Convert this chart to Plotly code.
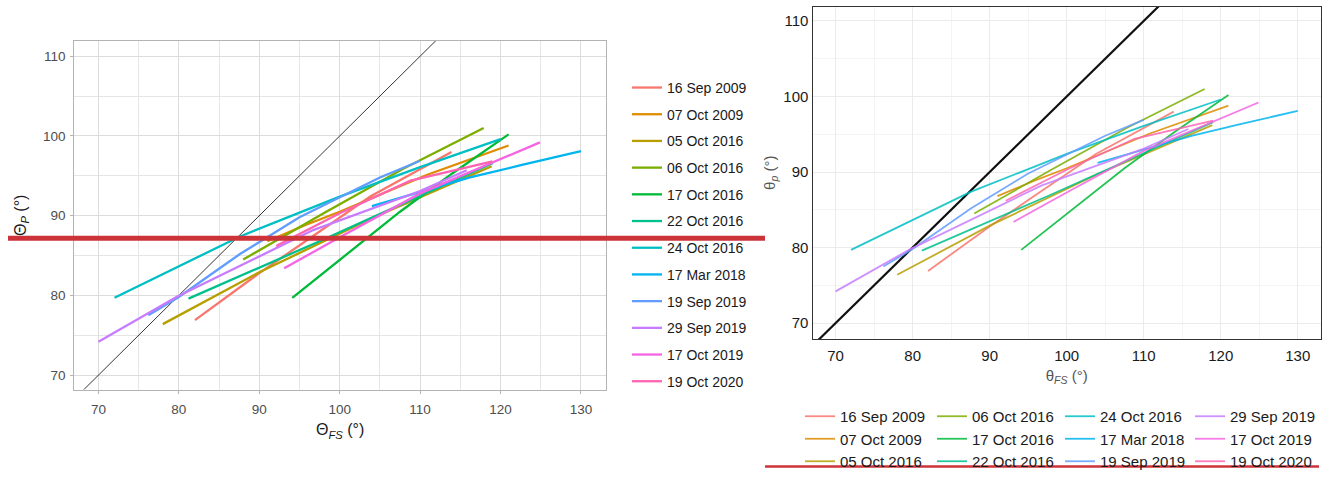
import plotly.graph_objects as go

# ---------------- data ----------------
dates = ["16 Sep 2009", "07 Oct 2009", "05 Oct 2016", "06 Oct 2016",
         "17 Oct 2016", "22 Oct 2016", "24 Oct 2016", "17 Mar 2018",
         "19 Sep 2019", "29 Sep 2019", "17 Oct 2019", "19 Oct 2020"]

colors = ["#F8766D", "#DE8C00", "#B79F00", "#7CAE00", "#00BA38", "#00C08B",
          "#00BFC4", "#00B4F0", "#619CFF", "#C77CFF", "#F564E3", "#FF64B0"]

x_16sep2009 = [82, 90, 103.8, 113.9]
y_16sep2009 = [76.9, 82.8, 92.4, 98.0]
x_07oct2009 = [91, 95.9, 100, 110.8, 121]
y_07oct2009 = [86.8, 88.9, 90.5, 95.1, 98.8]
x_05oct2016 = [78, 90, 104, 118.9]
y_05oct2016 = [76.4, 82.9, 89.7, 96.2]
x_06oct2016 = [88, 98, 107.9, 117.9]
y_06oct2016 = [84.5, 90.3, 95.9, 101.0]
x_17oct2016 = [94.1, 100, 107.5, 114, 121]
y_17oct2016 = [79.7, 84.5, 90.5, 95.3, 100.2]
x_22oct2016 = [81.2, 97.5, 119]
y_22oct2016 = [79.6, 86.8, 96.6]
x_24oct2016 = [72, 80, 87.6, 100, 110, 120]
y_24oct2016 = [79.7, 83.7, 87.4, 92.4, 96.1, 99.6]
x_17mar2018 = [104, 112.1, 116.2, 122.4, 130]
y_17mar2018 = [91.2, 93.6, 94.8, 96.3, 98.1]
x_19sep2019 = [76.2, 80, 87.6, 95, 105, 110]
y_19sep2019 = [77.5, 79.8, 85.2, 89.8, 94.8, 96.9]
x_29sep2019 = [70, 79.7, 96.7, 110, 115.8]
y_29sep2019 = [74.2, 79.8, 88.2, 93.1, 95.7]
x_17oct2019 = [93.1, 100, 110, 116.2, 124.9]
y_17oct2019 = [83.4, 87.3, 92.8, 95.5, 99.2]
x_19oct2020 = [92.1, 100, 108.8, 119]
y_19oct2020 = [86.2, 90.3, 94.4, 96.8]

xs = [x_16sep2009, x_07oct2009, x_05oct2016, x_06oct2016, x_17oct2016, x_22oct2016,
      x_24oct2016, x_17mar2018, x_19sep2019, x_29sep2019, x_17oct2019, x_19oct2020]
ys = [y_16sep2009, y_07oct2009, y_05oct2016, y_06oct2016, y_17oct2016, y_22oct2016,
      y_24oct2016, y_17mar2018, y_19sep2019, y_29sep2019, y_17oct2019, y_19oct2020]

identity = [60, 140]          # 1:1 reference line (y = x)
x_ticks = [70, 80, 90, 100, 110, 120, 130]
y_ticks = [70, 80, 90, 100, 110]

W, H = 1325, 478
FONT = "Liberation Sans, Arial, sans-serif"

fig = go.Figure()

# ---------------- left panel ----------------
fig.add_trace(go.Scatter(x=identity, y=identity, mode="lines",
                         line=dict(color="black", width=0.8),
                         showlegend=False, hoverinfo="skip",
                         xaxis="x", yaxis="y"))
for i, (d, c) in enumerate(zip(dates, colors)):
    fig.add_trace(go.Scatter(x=xs[i], y=ys[i], mode="lines", name=d,
                             line=dict(color=c, width=2.3),
                             legend="legend", legendgroup="L%d" % i,
                             xaxis="x", yaxis="y"))

# ---------------- right panel ----------------
fig.add_trace(go.Scatter(x=identity, y=identity, mode="lines",
                         line=dict(color="#111111", width=2.2),
                         showlegend=False, hoverinfo="skip",
                         xaxis="x2", yaxis="y2"))
for i, (d, c) in enumerate(zip(dates, colors)):
    fig.add_trace(go.Scatter(x=xs[i], y=ys[i], mode="lines", name=d,
                             line=dict(color=c, width=1.8), opacity=0.85,
                             legend="legend%d" % (2 + i // 3),
                             xaxis="x2", yaxis="y2"))


def px_x(p):
    return p / W


def px_y(p):
    return 1 - p / H


left_grid = dict(showgrid=True, gridcolor="#DCDCDC", gridwidth=1,
                 zeroline=False, showline=True, mirror=True,
                 linecolor="#B3B3B3", linewidth=1,
                 ticks="outside", ticklen=3, tickcolor="#B3B3B3",
                 tickfont=dict(family=FONT, size=13.5, color="#4D4D4D"),
                 automargin=False)

fig.update_layout(
    width=W, height=H,
    margin=dict(l=0, r=0, t=0, b=0),
    paper_bgcolor="white", plot_bgcolor="white",
    font=dict(family=FONT),
    xaxis=dict(domain=[px_x(74.3), px_x(605.9)], range=[67, 133.1],
               tickvals=x_ticks, anchor="y", ticklabelstandoff=4,
               minor=dict(dtick=5, tick0=65, showgrid=True, gridcolor="#E6E6E6", gridwidth=0.8),
               title=dict(text="Θ<sub><i>FS</i></sub> (°)", standoff=8,
                          font=dict(family=FONT, size=16, color="#1A1A1A")),
               **left_grid),
    yaxis=dict(domain=[px_y(395.3), px_y(41.7)], range=[68.2, 111.9],
               tickvals=y_ticks, anchor="x", ticklabelstandoff=2,
               minor=dict(dtick=5, tick0=65, showgrid=True, gridcolor="#E6E6E6", gridwidth=0.8),
               title=dict(text="Θ<sub><i>P</i></sub> (°)", standoff=12,
                          font=dict(family=FONT, size=16, color="#1A1A1A")),
               **left_grid),
    xaxis2=dict(domain=[px_x(812.5), px_x(1320.9)], range=[67, 133],
                tickvals=x_ticks, anchor="y2", ticklabelstandoff=3,
                showgrid=True, gridcolor="#EBEBEB", gridwidth=1,
                minor=dict(dtick=5, tick0=65, showgrid=True, gridcolor="#F4F4F4", gridwidth=0.8),
                zeroline=False, showline=True, mirror=True,
                linecolor="#333333", linewidth=1.3, ticks="",
                tickfont=dict(family=FONT, size=15, color="#1A1A1A"),
                title=dict(text="θ<sub><i>FS</i></sub> (°)", standoff=7,
                           font=dict(family=FONT, size=15, color="#555555")),
                automargin=False),
    yaxis2=dict(domain=[px_y(344), px_y(6.7)], range=[67.9, 111.9],
                tickvals=y_ticks, anchor="x2",
                showgrid=True, gridcolor="#EBEBEB", gridwidth=1,
                minor=dict(dtick=5, tick0=65, showgrid=True, gridcolor="#F4F4F4", gridwidth=0.8),
                zeroline=False, showline=True, mirror=True,
                linecolor="#333333", linewidth=1.3, ticks="",
                tickfont=dict(family=FONT, size=15, color="#1A1A1A"),
                title=dict(text="θ<sub><i>p</i></sub> (°)", standoff=4,
                           font=dict(family=FONT, size=15, color="#555555")),
                automargin=False),
    legend=dict(x=px_x(627), y=px_y(73), xanchor="left", yanchor="top",
                orientation="v", tracegroupgap=5.5, bgcolor="rgba(0,0,0,0)",
                font=dict(family=FONT, size=14, color="#1A1A1A")),
)

leg_x_text = [840, 972, 1100, 1230]
for k in range(4):
    fig.update_layout(**{"legend%d" % (2 + k): dict(
        x=px_x(leg_x_text[k] - 40), y=px_y(406), xanchor="left", yanchor="top",
        orientation="v", bgcolor="rgba(0,0,0,0)",
        font=dict(family=FONT, size=15, color="#1A1A1A"))})

# red highlight marks present on the reference image
fig.add_shape(type="line", xref="paper", yref="paper",
              x0=px_x(8), x1=px_x(765), y0=px_y(241.7), y1=px_y(241.7),
              line=dict(color="#CC3338", width=5))
fig.add_shape(type="line", xref="paper", yref="paper",
              x0=px_x(765), x1=px_x(1319), y0=px_y(473.5), y1=px_y(473.5),
              line=dict(color="#CC3338", width=2.5))

fig.write_html("out.html", config={"displayModeBar": False},
               post_script="document.body.style.margin='0px';document.body.style.overflow='hidden';")
